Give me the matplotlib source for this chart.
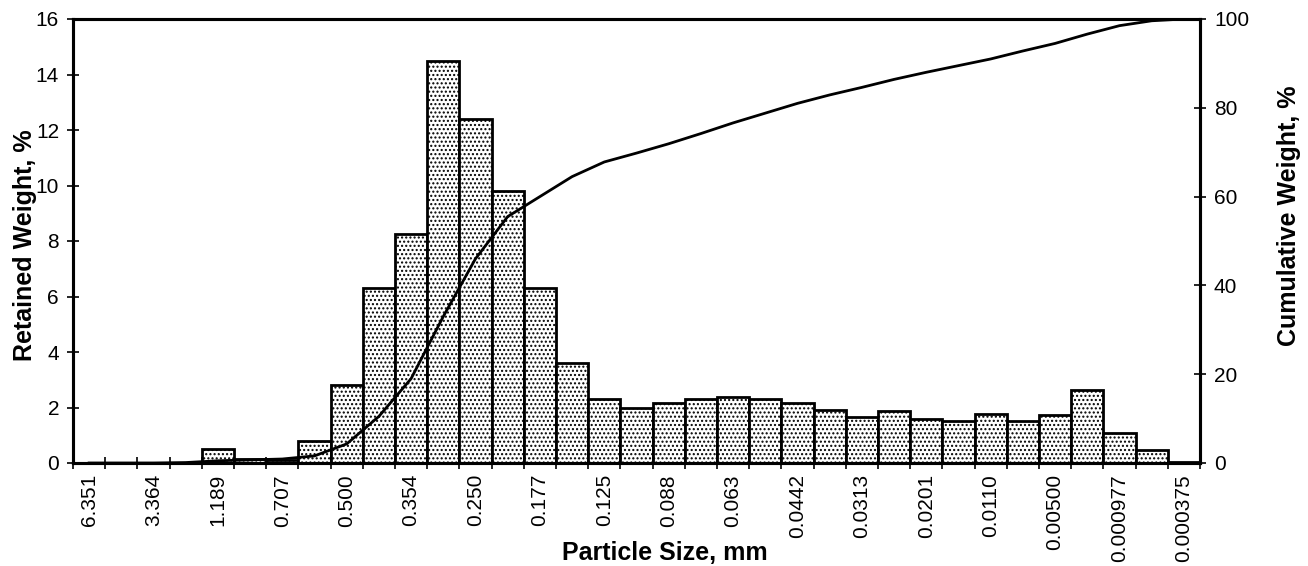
import numpy as np
import matplotlib
matplotlib.use('Agg')
import matplotlib.pyplot as plt

plt.rcParams['font.family'] = ['Liberation Sans', 'DejaVu Sans']
plt.rcParams['hatch.linewidth'] = 1.0

# size classes (mm), one label every other bar
size_labels = ['6.351', '3.364', '1.189', '0.707', '0.500', '0.354', '0.250',
               '0.177', '0.125', '0.088', '0.063', '0.0442', '0.0313',
               '0.0201', '0.0110', '0.00500', '0.000977', '0.000375']

# retained weight per bar, %
retained = [0.0, 0.0, 0.0, 0.0, 0.52, 0.13, 0.12, 0.8, 2.8, 6.3,
            8.25, 14.5, 12.4, 9.8, 6.3, 3.6, 2.3, 2.0, 2.15, 2.3,
            2.38, 2.3, 2.15, 1.92, 1.66, 1.86, 1.58, 1.52, 1.78, 1.52,
            1.72, 2.63, 1.07, 0.48, 0.05]

# cumulative weight, %
cumulative = [0.0, 0.0, 0.0, 0.1, 0.5, 0.7, 0.9, 1.6, 4.3, 10.5,
              19.0, 33.0, 46.0, 55.5, 60.0, 64.5, 67.8, 69.8, 71.9, 74.2,
              76.6, 78.8, 81.0, 82.9, 84.6, 86.4, 88.0, 89.5, 91.0, 92.8,
              94.5, 96.6, 98.5, 99.6, 100.0]

n = len(retained)
x = np.arange(n)

fig = plt.figure(figsize=(13.08, 5.66), dpi=100)
ax = fig.add_axes([73/1308, 103/566, 1127/1308, 444/566])

ax.bar(x, retained, width=1.0, color='white', edgecolor='black',
       linewidth=2.0, hatch='....')
ax.set_xlim(-0.5, n - 0.5)
ax.set_ylim(0, 16)
ax.set_yticks(np.arange(0, 17, 2))

# labelled ticks on every second bar
ax.set_xticks(x[::2])
ax.set_xticklabels(size_labels, rotation=90, fontsize=15)
ax.set_xticks(np.arange(-0.5, n), minor=True)
ax.tick_params(axis='x', which='major', length=0, pad=8)
ax.tick_params(axis='x', which='minor', direction='inout', length=8, width=1.2)
ax.tick_params(axis='y', direction='inout', length=8, width=1.2,
               labelsize=15, pad=6)

ax2 = ax.twinx()
ax2.plot(x, cumulative, color='black', lw=2)
ax2.set_ylim(0, 100)
ax2.set_yticks(np.arange(0, 101, 20))
ax2.tick_params(axis='y', direction='inout', length=8, width=1.2,
                labelsize=15, pad=6)

for a in (ax, ax2):
    for s in a.spines.values():
        s.set_linewidth(2.2)

ax.set_xlabel('Particle Size, mm', fontsize=18, fontweight='bold')
ax.xaxis.set_label_coords(0.525, -0.175)
ax.set_ylabel('Retained Weight, %', fontsize=18, fontweight='bold')
ax.yaxis.set_label_coords(-0.032, 0.49)
ax2.set_ylabel('Cumulative Weight, %', fontsize=18, fontweight='bold')
ax2.yaxis.set_label_coords(1.068, 0.556)

fig.savefig('out.png', dpi=100)
